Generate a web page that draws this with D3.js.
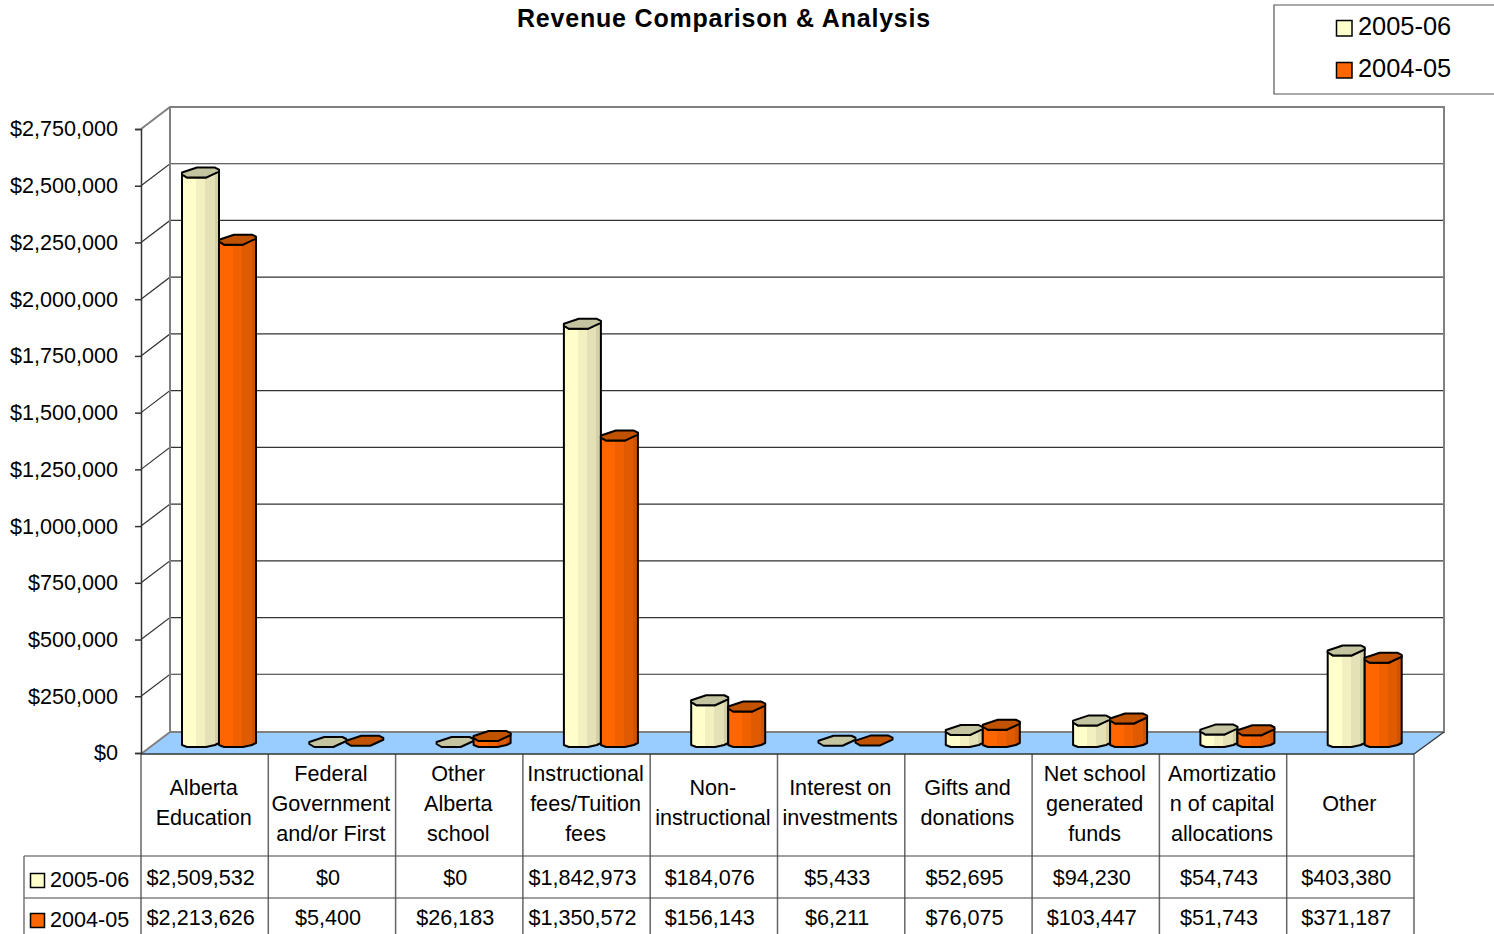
<!DOCTYPE html>
<html lang="en">
<head>
  <meta charset="UTF-8">
  <title>Revenue Comparison &amp; Analysis</title>
  <script src="https://d3js.org/d3.v7.min.js"></script>
  <style>
    html, body {
      margin: 0;
      background: #fff;
      overflow: hidden;
    }

    svg {
      display: block;
    }

    text {
      font-family: "Liberation Sans", Arial, sans-serif;
      fill: #000;
    }

    .axis text, .cell, .row-label, .cat-label {
      font-size: 21.6px;
    }

    .graph-title {
      font-size: 25px;
      font-weight: bold;
      text-anchor: middle;
      letter-spacing: 0.8px;
    }

    .legend-label {
      font-size: 25.4px;
    }
  </style>
</head>
<body>
  <script>
    const categories = [
      ["Alberta", "Education"],
      ["Federal", "Government", "and/or First"],
      ["Other", "Alberta", "school"],
      ["Instructional", "fees/Tuition", "fees"],
      ["Non-", "instructional"],
      ["Interest on", "investments"],
      ["Gifts and", "donations"],
      ["Net school", "generated", "funds"],
      ["Amortizatio", "n of capital", "allocations"],
      ["Other"]
    ];
    const seriesNames = ["2005-06", "2004-05"];
    const values2005 = [2509532, 0, 0, 1842973, 184076, 5433, 52695, 94230, 54743, 403380];
    const values2004 = [2213626, 5400, 26183, 1350572, 156143, 6211, 76075, 103447, 51743, 371187];
    const yTicks = [0, 250000, 500000, 750000, 1000000, 1250000, 1500000, 1750000, 2000000, 2250000, 2500000, 2750000];

    const width = 1494, height = 934;
    const dx = 29, dy = 22;          // depth of the 3d box
    const left = 141, right = 1414;
    const money = d3.format("$,");

    const svg = d3.select("body")
      .append("svg")
        .attr("width", width)
        .attr("height", height);

    const x = d3.scaleBand()
      .domain(d3.range(categories.length))
      .range([left, right]);

    const inner = d3.scaleBand()
      .domain(seriesNames)
      .range([41, 115]);

    const y = d3.scaleLinear()
      .domain([0, 2750000])
      .range([753, 129]);

    // Stepped shading for the bars
    const palette = {
      "2005-06": { stops: ["#ffffcc", "#f2f0c0", "#e3e1b5", "#d2d0a4"], top: "#c4c4a0", key: "#ffffcc" },
      "2004-05": { stops: ["#ff6600", "#f06000", "#e05a00", "#d05400"], top: "#c05200", key: "#ff6600" }
    };
    const bands = [0, 0.38, 0.62, 0.88, 1];
    const defs = svg.append("defs");
    seriesNames.forEach((name, i) => {
      const g = defs.append("linearGradient").attr("id", "bar" + i);
      palette[name].stops.forEach((c, j) => {
        g.append("stop").attr("offset", bands[j]).attr("stop-color", c);
        g.append("stop").attr("offset", bands[j + 1]).attr("stop-color", c);
      });
    });

    // Title
    svg.append("text")
      .attr("class", "graph-title")
      .attr("x", 724)
      .attr("y", 27)
      .text("Revenue Comparison & Analysis");

    // Walls and floor
    const y0 = y(0) + 1, yTop = y(2750000);
    svg.append("path")
      .attr("d", `M${left},${y0}L${left + dx},${y0 - dy}L${right + dx + 1},${y0 - dy}L${right},${y0}Z`)
      .attr("fill", "#99ccff");

    svg.append("g")
      .selectAll("path")
      .data(yTicks.slice(1, -1))
      .join("path")
        .attr("d", d => `M${left},${y(d)}L${left + dx},${y(d) - dy}L${right + dx + 1},${y(d) - dy}`)
        .attr("fill", "none")
        .attr("stroke", "#333")
        .attr("stroke-width", 1.2);

    svg.append("path")
      .attr("d", `M${left},${yTop}L${left + dx},${yTop - dy}L${right + dx + 1},${yTop - dy}L${right + dx + 1},${y0 - dy}L${left + dx},${y0 - dy}L${left + dx},${yTop - dy}M${left + dx},${y0 - dy}L${left},${y0}`)
      .attr("fill", "none")
      .attr("stroke", "#808080")
      .attr("stroke-width", 2);

    svg.append("path")
      .attr("d", `M${right + dx + 1},${y0 - dy}L${right},${y0}`)
      .attr("stroke", "#333")
      .attr("stroke-width", 1.2);

    // Y axis
    const axis = svg.append("g")
      .attr("class", "axis")
      .attr("transform", `translate(${left},0)`)
      .call(d3.axisLeft(y).tickValues(yTicks).tickFormat(money).tickSize(6).tickPadding(17));
    axis.selectAll("path, line").attr("stroke", "#333").attr("stroke-width", 1.5);
    axis.selectAll("text").attr("font-family", null).attr("font-size", null);

    // Bars: a faceted column, top face drawn last
    const line = d3.line();
    const barTop = v => y(v) - 6;
    const barBottom = y(0) - 6;

    function bodyPoints(x0, yf, w) {
      return [[x0, yf - 4], [x0, barBottom - 2], [x0 + 5, barBottom], [x0 + w - 13, barBottom],
        [x0 + w - 4, barBottom - 2], [x0 + w, barBottom - 4], [x0 + w, yf - 7], [x0 + w - 13, yf], [x0 + 5, yf]];
    }

    function topPoints(x0, yf, w) {
      return [[x0, yf - 5], [x0 + 15, yf - 10], [x0 + w - 4, yf - 10], [x0 + w, yf - 8], [x0 + w, yf - 6],
        [x0 + w - 13, yf], [x0 + 5, yf], [x0, yf - 3]];
    }

    [values2005, values2004].forEach((values, i) => {
      const name = seriesNames[i];
      const w = inner.bandwidth();
      const g = svg.append("g");
      const bar = g.selectAll("g")
        .data(values)
        .join("g");

      // very small values only show the top face
      bar.filter(d => barBottom - barTop(d) >= 3).append("path")
        .attr("d", d => {
          const k = values.indexOf(d);
          return line(bodyPoints(x(k) + inner(name), barTop(d), w)) + "Z";
        })
        .attr("fill", `url(#bar${i})`)
        .attr("stroke", "#000")
        .attr("stroke-width", 2)
        .attr("stroke-linejoin", "round");

      bar.append("path")
        .attr("d", (d, k) => line(topPoints(x(k) + inner(name), barTop(d), w)) + "Z")
        .attr("fill", palette[name].top)
        .attr("stroke", "#000")
        .attr("stroke-width", 2)
        .attr("stroke-linejoin", "round");
    });

    // Data table
    const rowLines = [754, 856, 898];
    const table = svg.append("g");
    table.selectAll("line.v")
      .data(d3.range(categories.length + 1))
      .join("line")
        .attr("class", "v")
        .attr("x1", k => k === categories.length ? right : x(k))
        .attr("x2", k => k === categories.length ? right : x(k))
        .attr("y1", rowLines[0])
        .attr("y2", height)
        .attr("stroke", "#666")
        .attr("stroke-width", 1.5);

    table.append("line")
      .attr("x1", left).attr("x2", right)
      .attr("y1", rowLines[0]).attr("y2", rowLines[0])
      .attr("stroke", "#333").attr("stroke-width", 1.5);

    rowLines.slice(1).forEach(r => {
      table.append("line")
        .attr("x1", 24).attr("x2", right)
        .attr("y1", r).attr("y2", r)
        .attr("stroke", "#444").attr("stroke-width", 1.2);
    });

    table.append("line")
      .attr("x1", 24).attr("x2", 24)
      .attr("y1", rowLines[1]).attr("y2", height)
      .attr("stroke", "#777").attr("stroke-width", 1.5);

    // Category labels, centred vertically in the header row
    categories.forEach((lines, k) => {
      const mid = lines.length === 3 ? 811 : 810;
      table.append("text")
        .attr("class", "cat-label")
        .attr("text-anchor", "middle")
        .selectAll("tspan")
        .data(lines)
        .join("tspan")
          .attr("x", x(k) + x.bandwidth() / 2 - 1)
          .attr("y", (d, j) => mid + (j - (lines.length - 1) / 2) * 30 + (lines.length === 1 ? 1 : 0))
          .text(d => d);
    });

    // Value rows
    [values2005, values2004].forEach((values, i) => {
      const base = 885 + i * 40;
      table.selectAll("text.cell.r" + i)
        .data(values)
        .join("text")
          .attr("class", "cell r" + i)
          .attr("text-anchor", "middle")
          .attr("x", (d, k) => x(k) + x.bandwidth() / 2 - 4)
          .attr("y", base)
          .text(d => money(d));

      table.append("rect")
        .attr("x", 30.5).attr("y", base - 11.5)
        .attr("width", 14).attr("height", 14)
        .attr("fill", palette[seriesNames[i]].key)
        .attr("stroke", "#000").attr("stroke-width", 1.5);

      table.append("text")
        .attr("class", "row-label")
        .attr("x", 50).attr("y", base + 2)
        .text(seriesNames[i]);
    });

    // Legend
    const legend = svg.append("g");
    legend.append("path")
      .attr("d", "M1494,5L1274,5L1274,94L1494,94")
      .attr("fill", "#fff")
      .attr("stroke", "#555")
      .attr("stroke-width", 1.2);

    seriesNames.forEach((name, i) => {
      const base = 35 + i * 42;
      legend.append("rect")
        .attr("x", 1336.5).attr("y", base - 14.5)
        .attr("width", 15.5).attr("height", 15.5)
        .attr("fill", palette[name].key)
        .attr("stroke", "#000").attr("stroke-width", 1.5);
      legend.append("text")
        .attr("class", "legend-label")
        .attr("x", 1358).attr("y", base - 0.5)
        .text(name);
    });
  </script>
</body>
</html>
